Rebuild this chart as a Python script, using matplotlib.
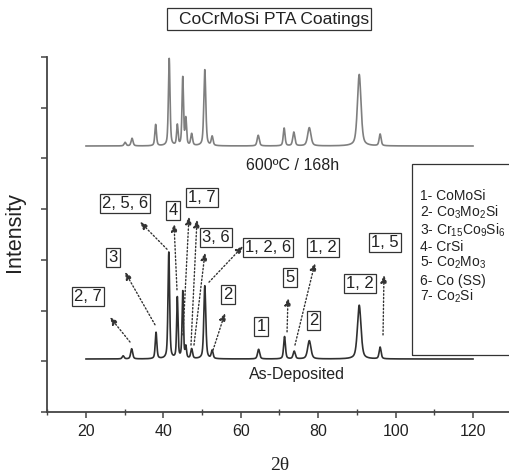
import numpy as np
import matplotlib
matplotlib.use("Agg")
import matplotlib.pyplot as plt
from matplotlib.patches import Rectangle

plt.rcParams['font.family'] = ['Liberation Sans', 'DejaVu Sans']
plt.rcParams['mathtext.fontset'] = 'custom'
plt.rcParams['mathtext.rm'] = 'Liberation Sans'
plt.rcParams['mathtext.it'] = 'Liberation Sans:italic'

# ---- data ----
two_theta_range = [20, 120]

# annealed 600 C / 168 h pattern: peak positions (2theta), heights, widths (FWHM)
ann_pos = [30.1, 31.9, 38.0, 41.5, 43.6, 45.0, 45.8, 47.3, 50.7, 52.6, 64.5, 71.2, 73.7, 77.7, 90.6, 96.0]
ann_hgt = [0.07, 0.15, 0.42, 1.72, 0.40, 1.34, 0.52, 0.23, 1.50, 0.18, 0.21, 0.35, 0.27, 0.36, 1.41, 0.23]
ann_fwhm = [0.6, 0.6, 0.5, 0.5, 0.45, 0.45, 0.45, 0.55, 0.6, 0.55, 0.65, 0.55, 0.65, 1.0, 1.1, 0.6]
ann_base = 5.245

# as-deposited pattern
dep_pos = [29.6, 31.8, 38.1, 41.4, 43.6, 45.0, 45.8, 47.3, 50.7, 52.6, 64.6, 71.3, 73.8, 77.7, 90.6, 96.0]
dep_hgt = [0.06, 0.20, 0.52, 2.10, 1.20, 1.32, 0.22, 0.19, 1.44, 0.16, 0.19, 0.44, 0.15, 0.36, 1.06, 0.23]
dep_fwhm = [0.6, 0.6, 0.5, 0.5, 0.42, 0.42, 0.42, 0.55, 0.6, 0.55, 0.65, 0.55, 0.65, 1.0, 1.1, 0.6]
dep_base = 1.045

peak_labels = ["2, 7", "3", "2, 5, 6", "4", "1, 7", "3, 6", "1, 2, 6", "2", "1", "5", "2", "1, 2", "1, 2", "1, 5"]
phases = ["1- CoMoSi", "2- Co$_3$Mo$_2$Si", "3- Cr$_{15}$Co$_9$Si$_6$", "4- CrSi",
          "5- Co$_2$Mo$_3$", "6- Co (SS)", "7- Co$_2$Si"]
x_ticks = [20, 40, 60, 80, 100, 120]


def pattern(x, pos, hgt, fwhm, base):
    y = np.full_like(x, base)
    for p, h, w in zip(pos, hgt, fwhm):
        g = np.exp(-4 * np.log(2) * ((x - p) / w) ** 2)
        l = 1.0 / (1.0 + 4 * ((x - p) / w) ** 2)
        y += h * (0.5 * g + 0.5 * l)
    return y


x = np.linspace(two_theta_range[0], two_theta_range[1], 4001)
y_ann = pattern(x, ann_pos, ann_hgt, ann_fwhm, ann_base)
y_dep = pattern(x, dep_pos, dep_hgt, dep_fwhm, dep_base)

W, H = 510, 475
fig = plt.figure(figsize=(W / 100, H / 100), dpi=100)
ax = fig.add_axes([47.3 / W, 63 / H, 464.4 / W, 355 / H])

txt = '#222222'
ax.plot(x, y_ann, color='#7f7f7f', lw=1.2)
ax.plot(x, y_dep, color='#303030', lw=1.2)

ax.set_xlim(10, 130)
ax.set_ylim(0, 7)
for s in ['top', 'right']:
    ax.spines[s].set_visible(False)
for s in ['left', 'bottom']:
    ax.spines[s].set_color('#444444')
    ax.spines[s].set_linewidth(1.3)
ax.set_xticks(x_ticks)
ax.set_xticks(np.arange(10, 131, 20), minor=True)
ax.set_yticks(np.arange(0, 8, 1))
ax.set_yticklabels([])
ax.tick_params(axis='both', which='major', direction='out', length=4, width=1.1,
               color='#444444', labelsize=11.5, labelcolor=txt, pad=5)
ax.tick_params(axis='x', which='minor', direction='inout', length=4, width=1.0, color='#444444')

# peak labels with dotted arrows
box_pos = [(20.5, 2.27), (27.0, 3.04), (30.1, 4.12), (42.5, 3.98), (50.0, 4.22), (53.6, 3.45),
           (67.0, 3.24), (56.7, 2.31), (65.2, 1.68), (72.7, 2.65), (78.8, 1.81), (81.3, 3.25),
           (90.8, 2.54), (97.3, 3.34)]
for lab, (bx, by) in zip(peak_labels, box_pos):
    ax.text(bx, by, lab, ha='center', va='center', fontsize=12, color=txt,
            bbox=dict(boxstyle='square,pad=0.12', fc='white', ec='#333333', lw=0.9))

arrows = [((31.37, 1.38), (26.2, 1.87)), ((37.83, 1.72), (30.08, 2.76)), ((40.93, 3.21), (33.95, 3.75)),
          ((43.51, 2.41), (42.74, 3.71)), ((45.06, 1.52), (46.61, 3.85)), ((47.13, 1.32), (48.68, 3.79)),
          ((47.9, 1.32), (50.75, 3.14)), ((51.78, 2.56), (60.57, 3.27)), ((52.82, 1.22), (55.92, 1.95)),
          ((71.95, 1.58), (72.2, 2.25)), ((74.0, 1.32), (79.17, 2.94)), ((96.75, 1.52), (97.0, 2.70))]
for tail, head in arrows:
    ax.annotate('', xy=head, xytext=tail,
                arrowprops=dict(arrowstyle='-|>,head_length=0.5,head_width=0.22', linestyle=(0, (1, 1.6)),
                                lw=1.0, color='#333333', shrinkA=0, shrinkB=0, mutation_scale=9))

ax.text(73.3, 4.87, "600ºC / 168h", ha='center', va='center', fontsize=11.5, color=txt)
ax.text(74.5, 0.73, "As-Deposited", ha='center', va='center', fontsize=11.5, color=txt)

# legend box
fig.patches.append(Rectangle((412.5 / W, 1 - 355 / H), 100 / W, 191 / H, transform=fig.transFigure,
                             fill=False, ec='#333333', lw=0.9))
leg_base = [200, 217, 235, 251, 267, 285, 301]
for t, b in zip(phases, leg_base):
    fig.text(420 / W, 1 - b / H, t, ha='left', va='baseline', fontsize=10, color=txt)

# title box
fig.patches.append(Rectangle((167 / W, 1 - 30 / H), 204 / W, 22 / H, transform=fig.transFigure,
                             fill=False, ec='#333333', lw=0.9))
fig.text(274 / W, 1 - 19.5 / H, "CoCrMoSi PTA Coatings", ha='center', va='center', fontsize=12.5, color=txt)

fig.text(15 / W, 1 - 232 / H, "Intensity", rotation=90, ha='center', va='center', fontsize=15.5, color=txt)
fig.text(280 / W, 1 - 465 / H, "2θ", ha='center', va='center', fontsize=14,
         family=['Liberation Serif', 'DejaVu Serif'], color=txt)

fig.savefig("out.png", dpi=100)
